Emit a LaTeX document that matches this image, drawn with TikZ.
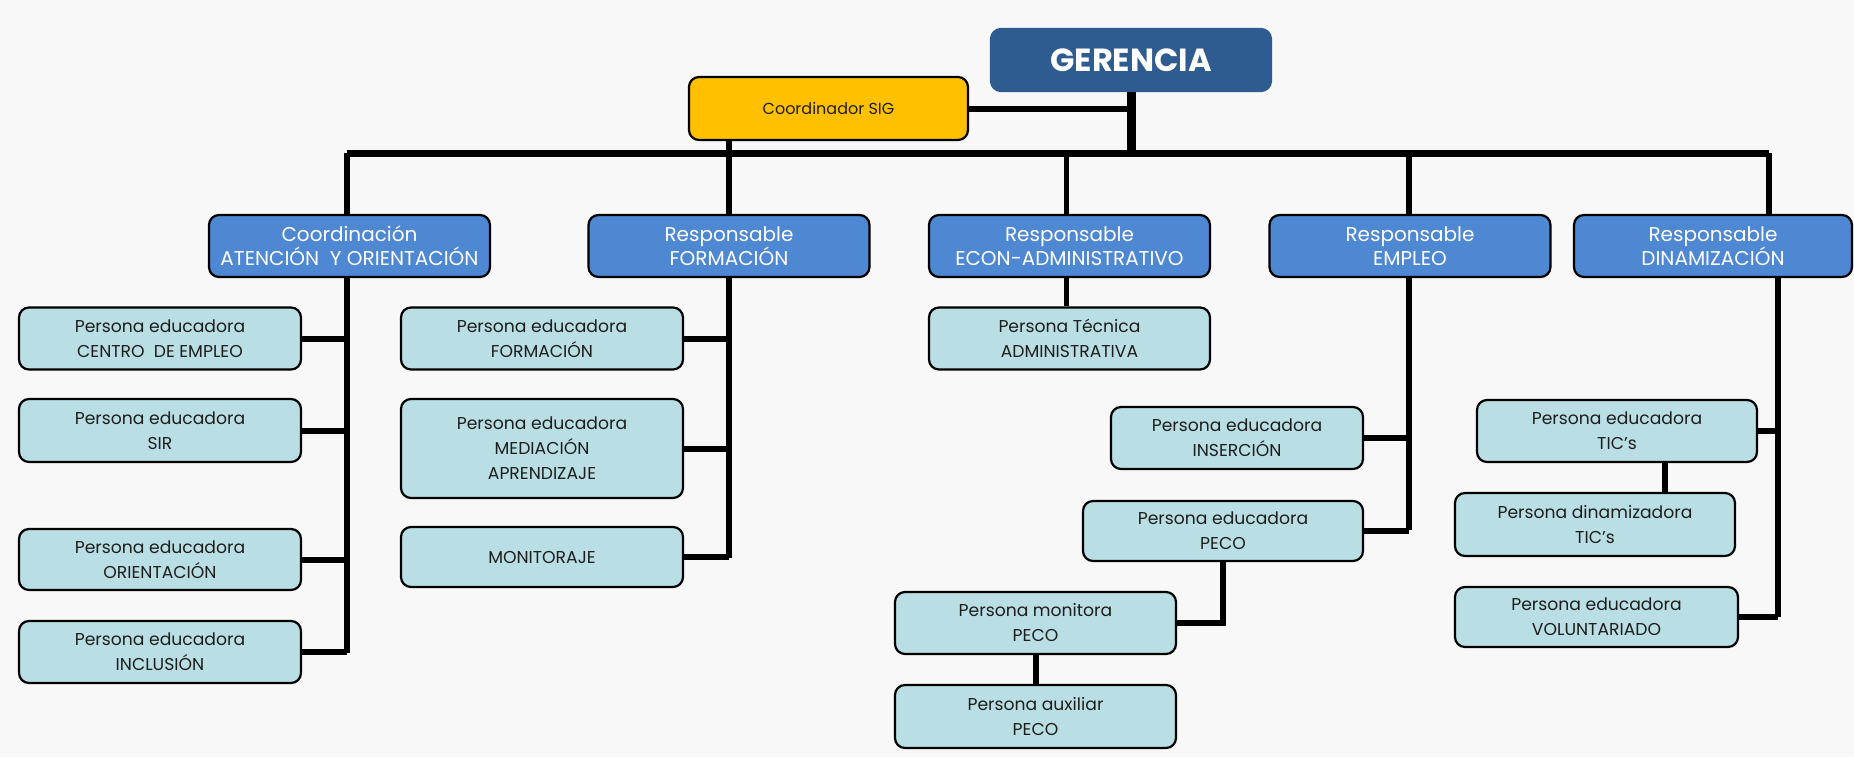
\documentclass[tikz,border=0pt]{standalone}
\usepackage{fontspec}
\setmainfont{Poppins}
\definecolor{bgc}{RGB}{248,248,248}
\definecolor{gerc}{RGB}{46,92,145}
\definecolor{l2c}{RGB}{78,135,210}
\definecolor{l3c}{RGB}{185,222,228}
\definecolor{sigc}{RGB}{255,192,0}
\definecolor{txt}{RGB}{30,30,30}
\tikzset{
  base/.style={draw=black, line width=1.1pt, rounded corners=5pt, align=center, inner sep=0pt},
  gerbox/.style={base, draw=gerc, fill=gerc, text=white, font=\fontsize{16}{18}\selectfont\bfseries, minimum width=140pt, minimum height=31pt},
  sigbox/.style={base, fill=sigc, text=txt, font=\fontsize{8}{10}\selectfont, minimum width=139.5pt, minimum height=31.5pt},
  lvtwo/.style={base, fill=l2c, text=white, font=\fontsize{10}{12}\selectfont, minimum width=140.5pt, minimum height=31pt},
  lvthree/.style={base, fill=l3c, text=txt, font=\fontsize{8.6}{12.5}\selectfont, minimum width=141pt, minimum height=31pt},
  link/.style={draw=black, line width=3pt},
  thinlink/.style={draw=black, line width=2.5pt},
  buslink/.style={draw=black, line width=3.5pt},
  heavylink/.style={draw=black, line width=4.5pt}
}
\begin{document}
\begin{tikzpicture}[x=0.5pt, y=-0.5pt]
\fill[bgc] (0,0) rectangle (1854,757);
\useasboundingbox (0,0) rectangle (1854,757);
% top
\node[gerbox] (ger) at (1131,60) {GERENCIA};
\node[sigbox] (sig) at (828.5,108.5) {Coordinador SIG};
% level 2
\node[lvtwo] (coord) at (349.5,246) {Coordinación\\ATENCIÓN \ Y ORIENTACIÓN};
\node[lvtwo] (form) at (729,246) {Responsable\\FORMACIÓN};
\node[lvtwo] (econ) at (1069.5,246) {Responsable\\ECON-ADMINISTRATIVO};
\node[lvtwo] (empl) at (1410,246) {Responsable\\EMPLEO};
\node[lvtwo, minimum width=139pt] (dina) at (1713,246) {Responsable\\DINAMIZACIÓN};
% level 3 - coordination
\node[lvthree] (centro) at (160,338.5) {Persona educadora\\CENTRO \ DE EMPLEO};
\node[lvthree, minimum height=31.5pt] (sir) at (160,430.5) {Persona educadora\\SIR};
\node[lvthree, minimum height=30.5pt] (orient) at (160,559.5) {Persona educadora\\ORIENTACIÓN};
\node[lvthree] (incl) at (160,652) {Persona educadora\\INCLUSIÓN};
% formation
\node[lvthree] (fform) at (542,338.5) {Persona educadora\\FORMACIÓN};
\node[lvthree, minimum height=49.5pt] (media) at (542,448.5) {Persona educadora\\MEDIACIÓN\\APRENDIZAJE};
\node[lvthree, minimum height=30pt] (monit) at (542,557) {MONITORAJE};
% econ
\node[lvthree, minimum width=140.5pt] (tecn) at (1069.5,338.5) {Persona Técnica\\ADMINISTRATIVA};
% empleo
\node[lvthree, minimum width=126pt] (inser) at (1237,438) {Persona educadora\\INSERCIÓN};
\node[lvthree, minimum width=140pt, minimum height=30pt] (pecoe) at (1223,531) {Persona educadora\\PECO};
\node[lvthree, minimum width=140.5pt] (monp) at (1035.5,623) {Persona monitora\\PECO};
\node[lvthree, minimum width=140.5pt, minimum height=31.5pt] (auxp) at (1035.5,716.5) {Persona auxiliar\\PECO};
% dinamizacion
\node[lvthree, minimum width=140pt] (tice) at (1617,431) {Persona educadora\\TIC's};
\node[lvthree, minimum width=140pt, minimum height=31.5pt] (ticd) at (1595,524.5) {Persona dinamizadora\\TIC's};
\node[lvthree, minimum width=141.5pt, minimum height=30pt] (volu) at (1596.5,617) {Persona educadora\\VOLUNTARIADO};
% bus coordinates
\coordinate (busL) at (347,153);
\coordinate (busR) at (1769,153);
\coordinate (ex) at (1066,153);
\coordinate (emx) at (1409,153);
\coordinate (spA) at (347,653);
\coordinate (spB) at (729,558);
\coordinate (spC) at (1409,530);
\coordinate (spD) at (1778,617);
% top connectors
\draw[buslink] (busL) -- (busR);
\draw[heavylink] (ger.south) -- (ger.south |- busL);
\draw[link] (sig.east) -- (ger.south |- sig.east);
\draw[link] (form.north |- sig.south) -- (form.north);
\draw[link] (busL) -- (busL |- coord.north);
\draw[thinlink] (ex) -- (ex |- econ.north);
\draw[link] (emx) -- (emx |- empl.north);
\draw[link] (busR) -- (busR |- dina.north);
% coordination branch
\draw[link] (spA |- coord.south) -- (spA);
\draw[link] (centro.east) -- (centro.east -| spA);
\draw[link] (sir.east) -- (sir.east -| spA);
\draw[link] (orient.east) -- (orient.east -| spA);
\draw[link] (incl.east) -- (incl.east -| spA);
% formation branch
\draw[link] (form.south) -- (spB);
\draw[link] (fform.east) -- (fform.east -| spB);
\draw[link] (media.east) -- (media.east -| spB);
\draw[link] (monit.east) -- (monit.east -| spB);
% econ branch
\draw[thinlink] (ex |- econ.south) -- (ex |- tecn.north);
% employment branch
\draw[link] (spC |- empl.south) -- (spC);
\draw[link] (inser.east) -- (inser.east -| spC);
\draw[link] (pecoe.east) -- (pecoe.east -| spC);
\draw[link] (pecoe.south) |- (monp.east);
\draw[link] (monp.south) -- (auxp.north);
% dinamization branch
\draw[link] (spD |- dina.south) -- (spD);
\draw[link] (tice.east) -- (tice.east -| spD);
\draw[link] (volu.east) -- (volu.east -| spD);
\draw[link] ([xshift=24pt]tice.south) -- ([xshift=24pt]tice.south |- ticd.north);
\end{tikzpicture}
\end{document}
